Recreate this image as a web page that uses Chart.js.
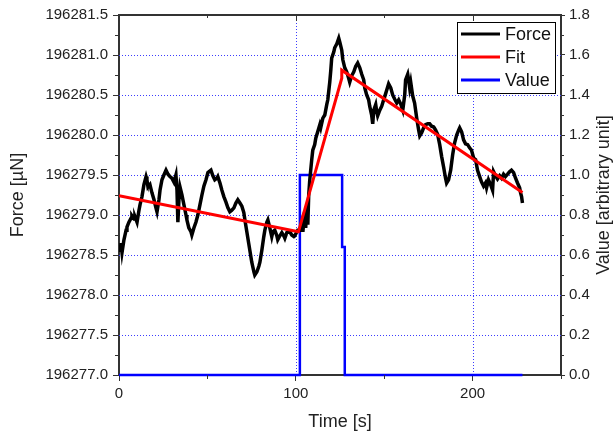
<!DOCTYPE html>
<html>
<head>
<meta charset="utf-8">
<script src="https://cdn.jsdelivr.net/npm/chart.js@4"></script>
<style>
  body { margin: 0; background: #fff; }
  #wrap { width: 614px; height: 437px; }
</style>
</head>
<body>
<div id="wrap"><canvas id="grafico"></canvas></div>
<script>
/* ---------------- datos ---------------- */
var forceTime = [
  0.0, 0.6, 1.1, 1.7, 2.8, 4.0, 4.5, 5.6, 6.8, 7.3, 8.5, 9.0, 10.2, 11.3, 11.9, 13.0, 14.1, 15.3, 15.8, 16.4,
  17.5, 18.6, 19.8, 20.9, 21.5, 22.6, 23.2, 24.3, 25.4, 26.6, 27.7, 28.8, 29.9, 31.1, 32.2, 32.8, 33.3, 33.9, 34.5, 35.6,
  36.7, 37.9, 38.4, 39.5, 40.7, 41.2, 42.4, 43.5, 44.6, 45.8, 46.9, 48.0, 49.2, 50.3, 52.0, 53.1, 54.2, 55.4, 55.9, 57.1,
  58.2, 59.3, 60.5, 61.6, 62.7, 63.8, 65.0, 66.1, 67.2, 68.4, 69.5, 70.6, 71.2, 72.3, 73.4, 74.0, 75.1, 76.3, 76.8, 78.0,
  79.1, 79.7, 80.8, 81.9, 82.5, 83.6, 84.2, 85.3, 86.4, 87.0, 88.1, 89.3, 89.8, 91.0, 92.1, 93.2, 93.8, 94.9, 96.6, 97.7,
  98.9, 99.4, 100.6, 101.1, 102.3, 103.4, 104.0, 105.1, 105.6, 106.2, 106.8, 107.3, 107.9, 109.0, 109.6, 110.7, 111.3, 112.4, 113.6, 114.1,
  115.3, 116.4, 117.5, 118.1, 119.2, 119.8, 120.3, 121.5, 122.0, 123.2, 124.3, 124.9, 126.0, 126.6, 127.7, 128.8, 129.9, 130.5, 131.6, 132.8,
  133.9, 135.0, 136.2, 137.3, 138.4, 139.0, 140.1, 141.2, 141.8, 142.9, 143.5, 144.1, 145.2, 145.8, 146.3, 147.5, 148.6, 149.7, 150.3, 151.4,
  152.5, 153.7, 154.8, 155.9, 157.1, 158.2, 159.3, 160.5, 161.6, 162.1, 163.3, 163.8, 164.4, 165.0, 166.1, 167.2, 168.4, 169.5, 170.1, 171.2,
  172.3, 173.4, 174.6, 175.7, 176.8, 178.0, 179.1, 180.2, 181.4, 182.5, 183.6, 184.7, 185.3, 186.4, 187.6, 188.7, 189.8, 191.0, 192.1, 192.7,
  193.8, 194.9, 196.0, 197.2, 198.3, 199.4, 200.6, 201.7, 202.8, 204.0, 205.1, 206.2, 207.3, 207.9, 209.0, 210.2, 211.3, 211.9, 213.0, 214.1,
  215.3, 216.4, 217.5, 218.6, 219.8, 220.9, 222.0, 223.2, 224.3, 225.4, 226.6, 227.1, 227.7, 228.2
];
var forceValues = [
  196278.63, 196278.56, 196278.65, 196278.53, 196278.69, 196278.81, 196278.85, 196278.91, 196278.96, 196278.99, 196278.95, 196278.98, 196278.91, 196279.06, 196279.13, 196279.23, 196279.38, 196279.48, 196279.44, 196279.35,
  196279.38, 196279.28, 196279.19, 196279.09, 196279.04, 196279.19, 196279.31, 196279.44, 196279.50, 196279.56, 196279.51, 196279.48, 196279.46, 196279.41, 196279.50, 196279.31, 196278.91, 196279.19, 196279.35, 196279.25,
  196279.13, 196279.00, 196278.94, 196278.84, 196278.79, 196278.75, 196278.84, 196278.91, 196279.00, 196279.13, 196279.25, 196279.36, 196279.44, 196279.53, 196279.56, 196279.49, 196279.44, 196279.46, 196279.48, 196279.40,
  196279.31, 196279.23, 196279.16, 196279.09, 196279.04, 196279.06, 196279.09, 196279.15, 196279.19, 196279.15, 196279.11, 196279.03, 196278.94, 196278.79, 196278.64, 196278.56, 196278.41, 196278.29, 196278.25, 196278.29,
  196278.36, 196278.41, 196278.56, 196278.73, 196278.81, 196278.91, 196278.94, 196278.84, 196278.73, 196278.79, 196278.81, 196278.74, 196278.69, 196278.74, 196278.78, 196278.74, 196278.71, 196278.78, 196278.79, 196278.75,
  196278.73, 196278.74, 196278.79, 196278.81, 196278.81, 196278.91, 196278.79, 196279.06, 196278.84, 196279.13, 196278.88, 196279.25, 196279.44, 196279.69, 196279.81, 196279.88, 196279.96, 196280.04, 196280.13, 196280.09,
  196280.21, 196280.25, 196280.38, 196280.44, 196280.66, 196280.81, 196280.96, 196281.04, 196281.09, 196281.14, 196281.21, 196281.16, 196281.06, 196280.94, 196280.84, 196280.79, 196280.71, 196280.66, 196280.74, 196280.79,
  196280.86, 196280.90, 196280.84, 196280.76, 196280.69, 196280.59, 196280.50, 196280.44, 196280.36, 196280.25, 196280.14, 196280.31, 196280.38, 196280.29, 196280.24, 196280.31, 196280.36, 196280.44, 196280.48, 196280.56,
  196280.64, 196280.59, 196280.50, 196280.45, 196280.40, 196280.44, 196280.39, 196280.31, 196280.50, 196280.69, 196280.76, 196280.69, 196280.59, 196280.66, 196280.49, 196280.40, 196280.21, 196280.06, 196279.99, 196280.03,
  196280.09, 196280.13, 196280.14, 196280.14, 196280.11, 196280.10, 196280.06, 196280.01, 196279.88, 196279.73, 196279.60, 196279.46, 196279.40, 196279.44, 196279.56, 196279.75, 196279.90, 196280.00, 196280.06, 196280.09,
  196280.04, 196279.94, 196279.89, 196279.88, 196279.84, 196279.81, 196279.71, 196279.69, 196279.56, 196279.48, 196279.41, 196279.36, 196279.40, 196279.34, 196279.44, 196279.38, 196279.31, 196279.54, 196279.49, 196279.45,
  196279.49, 196279.46, 196279.51, 196279.48, 196279.51, 196279.54, 196279.56, 196279.53, 196279.46, 196279.40, 196279.34, 196279.28, 196279.23, 196279.15
];

var fitTime = [0, 101.5, 126, 126, 228.2];
var fitValues = [196279.24, 196278.79, 196280.71, 196280.81, 196279.28];

var valueTime = [0, 102.3, 102.3, 126.2, 126.2, 127.7, 127.7, 228.2];
var valueValues = [0, 0, 1, 1, 0.64, 0.64, 0, 0];

var timeTicks = [0, 100, 200];
var timeMinorTicks = [50, 150, 250];
var forceTicks = [196277.0, 196277.5, 196278.0, 196278.5, 196279.0, 196279.5, 196280.0, 196280.5, 196281.0, 196281.5];
var valueTicks = [0, 0.2, 0.4, 0.6, 0.8, 1.0, 1.2, 1.4, 1.6, 1.8];

var fuente = '"Liberation Sans", Arial, sans-serif';
var azulGrid = '#3c3cff';
var ejeColor = '#333';

function puntos(xs, ys) {
  return xs.map(function (x, i) { return { x: x, y: ys[i] }; });
}

/* ---------------- plugins ---------------- */
// grid punteado azul (solo lineas interiores), dibujado antes de los datos
var rejilla = {
  id: 'rejilla',
  beforeDatasetsDraw: function (chart) {
    var ctx = chart.ctx, a = chart.chartArea;
    var sx = chart.scales.x, sy = chart.scales.y;
    var i, p;
    ctx.save();
    ctx.strokeStyle = azulGrid;
    ctx.lineWidth = 1;
    ctx.setLineDash([1, 2]);
    ctx.beginPath();
    for (i = 1; i < timeTicks.length; i++) {
      p = Math.round(sx.getPixelForValue(timeTicks[i])) + 0.5;
      ctx.moveTo(p, a.bottom); ctx.lineTo(p, a.top);
    }
    for (i = 1; i < forceTicks.length - 1; i++) {
      p = Math.round(sy.getPixelForValue(forceTicks[i])) + 0.5;
      ctx.moveTo(a.left, p); ctx.lineTo(a.right, p);
    }
    ctx.stroke();
    ctx.restore();
  }
};

var marco = {
  id: 'marco',
  afterDraw: function (chart) {
    var ctx = chart.ctx, a = chart.chartArea;
    var sx = chart.scales.x, sy = chart.scales.y, sy1 = chart.scales.y1;
    var i, p;
    ctx.save();
    ctx.strokeStyle = ejeColor;
    ctx.lineWidth = 2;
    ctx.beginPath();
    ctx.moveTo(a.left - 1, a.top);
    ctx.lineTo(a.right + 1, a.top);
    ctx.stroke();

    ctx.lineWidth = 1;
    ctx.beginPath();
    // ticks espejo arriba
    for (i = 1; i < timeTicks.length; i++) {
      p = Math.round(sx.getPixelForValue(timeTicks[i])) + 0.5;
      ctx.moveTo(p, a.top); ctx.lineTo(p, a.top + 6);
    }
    for (i = 0; i < timeMinorTicks.length; i++) {
      p = Math.round(sx.getPixelForValue(timeMinorTicks[i])) + 0.5;
      ctx.moveTo(p, a.top); ctx.lineTo(p, a.top + 3);
      ctx.moveTo(p, a.bottom); ctx.lineTo(p, a.bottom + 4);
    }
    // ticks menores izquierda
    for (i = 0; i < forceTicks.length - 1; i++) {
      p = Math.round(sy.getPixelForValue((forceTicks[i] + forceTicks[i + 1]) / 2)) + 0.5;
      ctx.moveTo(a.left - 4, p); ctx.lineTo(a.left, p);
    }
    // ticks menores derecha
    for (i = 0; i < valueTicks.length - 1; i++) {
      p = Math.round(sy1.getPixelForValue((valueTicks[i] + valueTicks[i + 1]) / 2)) + 0.5;
      ctx.moveTo(a.right, p); ctx.lineTo(a.right + 3, p);
    }
    ctx.stroke();

    // titulo eje derecho, de abajo hacia arriba
    ctx.fillStyle = '#222';
    ctx.font = '18px ' + fuente;
    ctx.textAlign = 'center';
    ctx.textBaseline = 'middle';
    ctx.translate(604, (a.top + a.bottom) / 2);
    ctx.rotate(-Math.PI / 2);
    ctx.fillText('Value [arbitrary unit]', 0, 0);
    ctx.restore();
  }
};

var leyenda = {
  id: 'leyenda',
  afterDraw: function (chart) {
    var ctx = chart.ctx, a = chart.chartArea;
    var w = 98, h = 71;
    var x0 = a.right - 6 - w, y0 = a.top + 7;
    ctx.save();
    ctx.fillStyle = '#fff';
    ctx.fillRect(x0, y0, w, h);
    ctx.strokeStyle = '#000';
    ctx.lineWidth = 1;
    ctx.strokeRect(x0 + 0.5, y0 + 0.5, w, h);
    ctx.font = '18px ' + fuente;
    ctx.textBaseline = 'middle';
    ctx.textAlign = 'left';
    chart.data.datasets.forEach(function (ds, i) {
      var yy = y0 + 12 + i * 23;
      ctx.strokeStyle = ds.borderColor;
      ctx.lineWidth = 3;
      ctx.beginPath();
      ctx.moveTo(x0 + 4, yy);
      ctx.lineTo(x0 + 43, yy);
      ctx.stroke();
      ctx.fillStyle = '#111';
      ctx.fillText(ds.label, x0 + 48, yy + 1);
    });
    ctx.restore();
  }
};

/* ---------------- grafico ---------------- */
var ctx = document.getElementById('grafico').getContext('2d');
var grafico = new Chart(ctx, {
  type: 'scatter',
  data: {
    datasets: [{
      label: 'Force',
      data: puntos(forceTime, forceValues),
      borderColor: '#000000',
      borderWidth: 3.5,
      showLine: true,
      pointRadius: 0,
      order: 1,
      yAxisID: 'y'
    }, {
      label: 'Fit',
      data: puntos(fitTime, fitValues),
      borderColor: '#ff0000',
      borderWidth: 3,
      showLine: true,
      pointRadius: 0,
      order: 0,
      yAxisID: 'y'
    }, {
      label: 'Value',
      data: puntos(valueTime, valueValues),
      borderColor: '#0000ff',
      borderWidth: 2.5,
      showLine: true,
      pointRadius: 0,
      order: 2,
      clip: false,
      yAxisID: 'y1'
    }]
  },
  options: {
    responsive: true,
    maintainAspectRatio: false,
    animation: false,
    layout: { padding: { top: 15, left: 0, right: 0, bottom: 0 } },
    plugins: { legend: { display: false }, tooltip: { enabled: false } },
    scales: {
      x: {
        type: 'linear',
        position: 'bottom',
        min: 0,
        max: 250,
        afterBuildTicks: function (s) { s.ticks = timeTicks.map(function (v) { return { value: v }; }); },
        afterFit: function (s) { s.height = 62; },
        ticks: { color: '#222', font: { family: fuente, size: 15 }, padding: 4, autoSkip: false, maxRotation: 0,
          callback: function (v) { return String(v); } },
        grid: { drawOnChartArea: false, tickColor: ejeColor, tickLength: 6, tickWidth: 1 },
        border: { color: ejeColor, width: 2 },
        title: { display: true, text: 'Time [s]', color: '#222', font: { family: fuente, size: 18 }, padding: { top: 4, bottom: 4 } }
      },
      y: {
        type: 'linear',
        position: 'left',
        min: 196277,
        max: 196281.5,
        afterBuildTicks: function (s) { s.ticks = forceTicks.map(function (v) { return { value: v }; }); },
        afterFit: function (s) { s.width = 119; },
        ticks: { color: '#222', font: { family: fuente, size: 15 }, padding: 5, autoSkip: false,
          callback: function (v) { return v.toFixed(1); } },
        grid: { drawOnChartArea: false, tickColor: ejeColor, tickLength: 6, tickWidth: 1 },
        border: { color: ejeColor, width: 2 },
        title: { display: true, text: 'Force [µN]', color: '#222', font: { family: fuente, size: 18 }, padding: { top: 7, bottom: 4 } }
      },
      y1: {
        type: 'linear',
        position: 'right',
        min: 0,
        max: 1.8,
        afterBuildTicks: function (s) { s.ticks = valueTicks.map(function (v) { return { value: v }; }); },
        afterFit: function (s) { s.width = 53; },
        ticks: { color: '#222', font: { family: fuente, size: 15 }, padding: 4, autoSkip: false,
          callback: function (v) { return v.toFixed(1); } },
        grid: { drawOnChartArea: false, tickColor: ejeColor, tickLength: 4, tickWidth: 1 },
        border: { color: ejeColor, width: 2 },
        title: { display: false }
      }
    }
  },
  plugins: [rejilla, marco, leyenda]
});
</script>
</body>
</html>
